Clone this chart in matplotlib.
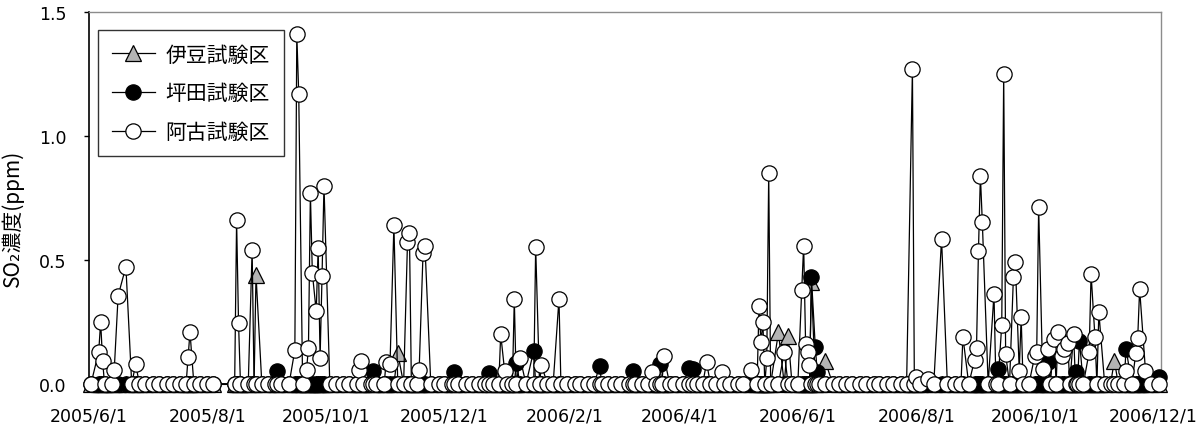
import matplotlib
matplotlib.use("Agg")
import matplotlib.pyplot as plt
import pandas as pd

plt.rcParams['font.family'] = ['Noto Sans CJK JP', 'DejaVu Sans']

# ---- data ----
series_names = ["伊豆試験区", "坪田試験区", "阿古試験区"]

# non-zero readings; every other sampling day reads 0.0
izu_dates = ["2005-08-26", "2005-11-07", "2006-05-22", "2006-05-27", "2006-06-08",
             "2006-06-15", "2006-11-11"]
izu_values = [0.44, 0.125, 0.208, 0.195, 0.41, 0.094, 0.094]

tsubota_dates = ["2005-09-06", "2005-10-25", "2005-12-06", "2005-12-24", "2006-01-07",
                 "2006-01-16", "2006-02-19", "2006-03-08", "2006-03-22", "2006-04-06",
                 "2006-04-08", "2006-06-08", "2006-06-10", "2006-06-11", "2006-09-12",
                 "2006-10-08", "2006-10-22", "2006-10-24", "2006-11-17", "2006-12-04"]
tsubota_values = [0.052, 0.054, 0.048, 0.044, 0.085, 0.134, 0.072, 0.052, 0.079, 0.065,
                  0.06, 0.43, 0.148, 0.047, 0.06, 0.087, 0.05, 0.175, 0.141, 0.027]

ako_dates = ["2005-06-06", "2005-06-07", "2005-06-08", "2005-06-14", "2005-06-16",
             "2005-06-20", "2005-06-25", "2005-07-22", "2005-07-23", "2005-08-16",
             "2005-08-17", "2005-08-24", "2005-09-15", "2005-09-16", "2005-09-17",
             "2005-09-21", "2005-09-22", "2005-09-23", "2005-09-24", "2005-09-26",
             "2005-09-27", "2005-09-28", "2005-09-29", "2005-09-30", "2005-10-18",
             "2005-10-19", "2005-11-01", "2005-11-03", "2005-11-05", "2005-11-12",
             "2005-11-13", "2005-11-18", "2005-11-20", "2005-11-21", "2005-12-30",
             "2006-01-01", "2006-01-06", "2006-01-09", "2006-01-17", "2006-01-20",
             "2006-01-29", "2006-03-18", "2006-03-24", "2006-04-15", "2006-04-23",
             "2006-05-08", "2006-05-12", "2006-05-13", "2006-05-14", "2006-05-16",
             "2006-05-17", "2006-05-25", "2006-06-03", "2006-06-04", "2006-06-05",
             "2006-06-06", "2006-06-07", "2006-07-30", "2006-08-01", "2006-08-07",
             "2006-08-14", "2006-08-25", "2006-08-31", "2006-09-01", "2006-09-02",
             "2006-09-03", "2006-09-04", "2006-09-10", "2006-09-14", "2006-09-15",
             "2006-09-16", "2006-09-20", "2006-09-21", "2006-09-23", "2006-09-24",
             "2006-10-01", "2006-10-02", "2006-10-03", "2006-10-05", "2006-10-08",
             "2006-10-11", "2006-10-13", "2006-10-15", "2006-10-16", "2006-10-18",
             "2006-10-21", "2006-10-29", "2006-10-30", "2006-11-01", "2006-11-03",
             "2006-11-17", "2006-11-22", "2006-11-23", "2006-11-24", "2006-11-27"]
ako_values = [0.13, 0.25, 0.094, 0.058, 0.356, 0.473, 0.08, 0.108, 0.21, 0.66,
              0.246, 0.54, 0.137, 1.41, 1.17, 0.056, 0.145, 0.769, 0.448, 0.293,
              0.548, 0.105, 0.437, 0.80, 0.056, 0.094, 0.09, 0.08, 0.64, 0.571,
              0.609, 0.056, 0.527, 0.558, 0.2, 0.054, 0.343, 0.105, 0.554, 0.078,
              0.343, 0.05, 0.114, 0.087, 0.05, 0.056, 0.313, 0.17, 0.25, 0.103,
              0.85, 0.128, 0.38, 0.558, 0.161, 0.128, 0.077, 1.27, 0.03, 0.02,
              0.585, 0.19, 0.097, 0.145, 0.537, 0.84, 0.652, 0.363, 0.238, 1.25,
              0.12, 0.43, 0.49, 0.054, 0.269, 0.114, 0.13, 0.712, 0.06, 0.14,
              0.18, 0.208, 0.114, 0.14, 0.165, 0.2, 0.128, 0.444, 0.188, 0.289,
              0.054, 0.125, 0.184, 0.383, 0.054]

# routine sampling: twice a week (Mon & Thu); no sampling for a stretch in Aug 2005
sampling_start, sampling_end = "2005-06-01", "2006-12-04"
sampling_weekdays = ["W-MON", "W-THU"]
gap_start, gap_end = "2005-08-05", "2005-08-13"

xtick_labels = ["2005/6/1", "2005/8/1", "2005/10/1", "2005/12/1", "2006/2/1",
                "2006/4/1", "2006/6/1", "2006/8/1", "2006/10/1", "2006/12/1"]
yticks = [0.0, 0.5, 1.0, 1.5]

# ---- build series ----
all_spikes = pd.DatetimeIndex(pd.to_datetime(izu_dates + tsubota_dates + ako_dates)).unique()
days = pd.DatetimeIndex([])
for wd in sampling_weekdays:
    days = days.union(pd.date_range(sampling_start, sampling_end, freq=wd))
days = days.union(all_spikes).unique().sort_values()
days = days[(days < pd.Timestamp(gap_start)) | (days > pd.Timestamp(gap_end))]


def build(dates, values):
    s = pd.Series(0.0, index=days)
    for d, v in zip(pd.to_datetime(dates), values):
        s.loc[d] = v
    return s


izu = build(izu_dates, izu_values)
tsubota = build(tsubota_dates, tsubota_values)
ako = build(ako_dates, ako_values)

# ---- plot ----
fig = plt.figure(figsize=(12.04, 4.27), dpi=100)
ax = fig.add_axes([89 / 1204, 1 - 385 / 427, 1072 / 1204, 372 / 427])

ms = 11
common = dict(color="black", lw=0.9, markeredgecolor="black", markeredgewidth=0.9,
              markersize=ms, clip_on=False)
ax.plot(izu.index, izu.values, marker="^", markerfacecolor="#b4b4b4",
        label=series_names[0], zorder=3, **common)
ax.plot(tsubota.index, tsubota.values, marker="o", markerfacecolor="black",
        label=series_names[1], zorder=4, **common)
ax.plot(ako.index, ako.values, marker="o", markerfacecolor="white",
        label=series_names[2], zorder=5, **common)

ax.set_ylim(0, 1.5)
ax.set_yticks(yticks)
ax.set_yticklabels([f"{v:.1f}" for v in yticks], family="DejaVu Sans")
ax.set_xlim(pd.Timestamp("2005-06-01"), pd.Timestamp("2006-12-05"))
ax.set_xticks(pd.to_datetime(xtick_labels, format="%Y/%m/%d"))
ax.set_xticklabels(xtick_labels, family="DejaVu Sans")

ax.tick_params(axis="y", direction="out", length=3.6, width=1, pad=12.5, labelsize=12.5)
ax.tick_params(axis="x", length=0, pad=16, labelsize=12.5)
ax.tick_params(left=True, right=False, top=False, bottom=False)

for side in ("top", "right"):
    ax.spines[side].set_color("#8c8c8c")
    ax.spines[side].set_linewidth(1)
ax.spines["left"].set_color("black")
ax.spines["left"].set_linewidth(1.2)
ax.spines["bottom"].set_color("black")

ax.set_ylabel("SO₂濃度(ppm)", fontsize=15)
ax.yaxis.set_label_coords(-0.0605, 0.449)

leg = ax.legend(loc="upper left", bbox_to_anchor=(0.0084, 0.9516), borderaxespad=0,
                frameon=True, fancybox=False, edgecolor="black", fontsize=15,
                handlelength=2.1, handletextpad=0.5, labelspacing=0.8,
                borderpad=0.65, markerscale=1.0)
leg.get_frame().set_linewidth(1)
leg.set_zorder(10)

fig.savefig("out.png", dpi=100)
